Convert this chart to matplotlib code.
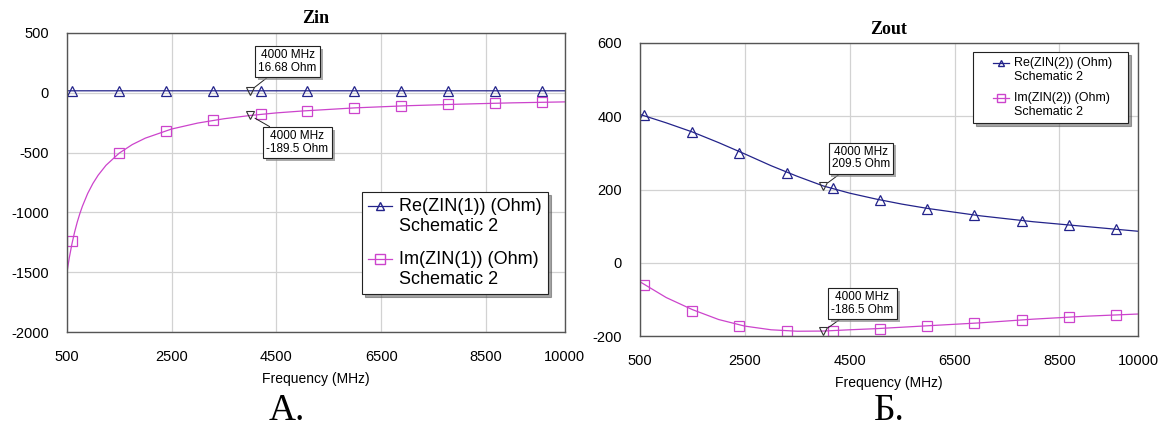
import matplotlib
matplotlib.use("Agg")
import matplotlib.pyplot as plt
import matplotlib.patheffects as pe
from matplotlib.legend_handler import HandlerLine2D

# --- data ---
# Zin (port 1)
zin_freq = [500, 550, 600, 650, 700, 750, 800, 900, 1000, 1100, 1250, 1500, 1750, 2000,
            2500, 3000, 3500, 4000, 4500, 5000, 6000, 7000, 8000, 9000, 10000]
zin_re = [16.7, 16.7, 16.7, 16.7, 16.7, 16.7, 16.7, 16.7, 16.7, 16.7, 16.7, 16.7, 16.7,
          16.7, 16.7, 16.7, 16.7, 16.68, 16.7, 16.7, 16.7, 16.7, 16.7, 16.7, 16.7]
zin_im = [-1516, -1378, -1263, -1166, -1083, -1011, -948, -842, -758, -689, -606, -505,
          -433, -379, -303, -253, -217, -189.5, -168, -152, -126, -108, -95, -84, -76]
zin_mk_freq = [610, 1505, 2400, 3300, 4200, 5090, 5990, 6880, 7780, 8670, 9570]
zin_re_mk = [16.7, 16.7, 16.7, 16.7, 16.7, 16.7, 16.7, 16.7, 16.7, 16.7, 16.7]
zin_im_mk = [-1243, -504, -316, -230, -180, -149, -127, -110, -97, -87, -79]

# Zout (port 2)
zout_freq = [500, 1000, 1500, 2000, 2500, 3000, 3500, 4000, 4500, 5000, 5500, 6000,
             7000, 8000, 9000, 10000]
zout_re = [405, 382, 357, 328, 297, 265, 236, 209.5, 190, 174, 160, 148, 128, 112, 99, 86]
zout_im = [-52, -95, -128, -155, -173, -183, -187, -186.5, -183, -180, -176, -172,
           -164, -154, -146, -140]
zout_mk_freq = [580, 1490, 2390, 3300, 4180, 5080, 5980, 6880, 7780, 8680, 9580]
zout_re_mk = [403, 358, 300, 246, 205, 170, 148, 130, 113, 102, 91]
zout_im_mk = [-61, -131, -172, -186, -186, -180, -172, -164, -155, -148, -143]

# marker readouts at 4000 MHz
mark_f = 4000
zin_mark = [16.68, -189.5]
zout_mark = [209.5, -186.5]

xticks = [500, 2500, 4500, 6500, 8500, 10000]
zin_yticks = [-2000, -1500, -1000, -500, 0, 500]
zout_yticks = [-200, 0, 200, 400, 600]

re_color = "#23238a"
im_color = "#cc44cc"
sans = "Liberation Sans"
serif = "Liberation Serif"

plt.rcParams["font.family"] = sans
plt.rcParams["axes.unicode_minus"] = False


class TopHandler(HandlerLine2D):
    # legend line next to the first line of a two-line label, optionally indented
    def __init__(self, lift, indent=0.0, **kw):
        super().__init__(**kw)
        self.lift = lift
        self.indent = indent

    def create_artists(self, legend, orig_handle, xdescent, ydescent, width, height,
                       fontsize, trans):
        sh = self.indent * fontsize
        return super().create_artists(legend, orig_handle, xdescent - sh,
                                      ydescent - 2 * self.lift * fontsize,
                                      width - sh, height, fontsize, trans)


fig = plt.figure(figsize=(11.69, 4.34), dpi=100)
ax1 = fig.add_axes([66.7 / 1169, 1 - 332 / 434, 498 / 1169, 299 / 434])
ax2 = fig.add_axes([640 / 1169, 1 - 336 / 434, 498 / 1169, 293 / 434])


def setup(ax, yticks, title, tpad):
    ax.set_xlim(500, 10000)
    ax.set_ylim(yticks[0], yticks[-1])
    ax.set_xticks(xticks)
    ax.set_yticks(yticks)
    ax.tick_params(length=0, labelsize=10.5, pad=13)
    ax.grid(True, color="#d2d2d2", linewidth=0.9)
    ax.set_axisbelow(True)
    for s in ax.spines.values():
        s.set_color("#555555")
        s.set_linewidth(1.0)
    ax.set_xlabel("Frequency (MHz)", fontsize=10, labelpad=6)
    ax.set_title(title, fontsize=13, fontweight="bold", family=serif, pad=tpad)


def readout(ax, y, text, dx, dy):
    ax.plot([mark_f], [y], marker="v", ms=6, mfc="none", mec="#333333",
            mew=0.8, ls="none", zorder=5)
    t = ax.annotate(text, xy=(mark_f, y), xytext=(dx, dy), textcoords="offset points",
                    ha="center", va="center", fontsize=8.5, linespacing=1.05,
                    bbox=dict(boxstyle="square,pad=0.28", fc="white", ec="#222222", lw=0.8),
                    arrowprops=dict(arrowstyle="-", color="#222222", lw=0.7,
                                    shrinkA=0, shrinkB=4), zorder=6)
    t.get_bbox_patch().set_path_effects([
        pe.withSimplePatchShadow(offset=(2, -2), shadow_rgbFace="#888888", alpha=0.7)])


# ---- Zin ----
setup(ax1, zin_yticks, "Zin", 7.5)
ax1.plot(zin_freq, zin_re, color=re_color, lw=0.9)
ax1.plot(zin_freq, zin_im, color=im_color, lw=0.9)
ax1.plot(zin_mk_freq, zin_re_mk, ls="none", marker="^", ms=7, mfc="none",
         mec=re_color, mew=0.9)
ax1.plot(zin_mk_freq, zin_im_mk, ls="none", marker="s", ms=7.5, mfc="none",
         mec=im_color, mew=0.9)
h1 = ax1.plot([], [], color=re_color, lw=0.9, marker="^", ms=6, mfc="none", mec=re_color)[0]
h2 = ax1.plot([], [], color=im_color, lw=0.9, marker="s", ms=7, mfc="none", mec=im_color)[0]
leg1 = ax1.legend([h1, h2], ["Re(ZIN(1)) (Ohm)\nSchematic 2", "Im(ZIN(1)) (Ohm)\nSchematic 2"],
                  loc="upper left", bbox_to_anchor=(0.593, 0.468), fontsize=13,
                  fancybox=False, shadow=True, edgecolor="#222222", framealpha=1,
                  handlelength=1.3, handletextpad=0.4, labelspacing=0.9,
                  borderpad=0.35, borderaxespad=0,
                  handler_map={h1: TopHandler(0.6), h2: TopHandler(0.6)})
leg1.get_frame().set_linewidth(0.8)
readout(ax1, zin_mark[0], "4000 MHz\n16.68 Ohm", 27, 21)
readout(ax1, zin_mark[1], "4000 MHz\n-189.5 Ohm", 34, -19.5)

# ---- Zout ----
setup(ax2, zout_yticks, "Zout", 6.5)
ax2.plot(zout_freq, zout_re, color=re_color, lw=0.9)
ax2.plot(zout_freq, zout_im, color=im_color, lw=0.9)
ax2.plot(zout_mk_freq, zout_re_mk, ls="none", marker="^", ms=7, mfc="none",
         mec=re_color, mew=0.9)
ax2.plot(zout_mk_freq, zout_im_mk, ls="none", marker="s", ms=7.5, mfc="none",
         mec=im_color, mew=0.9)
g1 = ax2.plot([], [], color=re_color, lw=0.9, marker="^", ms=5, mfc="none", mec=re_color)[0]
g2 = ax2.plot([], [], color=im_color, lw=0.9, marker="s", ms=6, mfc="none", mec=im_color)[0]
leg2 = ax2.legend([g1, g2], ["Re(ZIN(2)) (Ohm)   \nSchematic 2",
                             "Im(ZIN(2)) (Ohm)   \nSchematic 2"],
                  loc="upper left", bbox_to_anchor=(0.669, 0.969), fontsize=9,
                  fancybox=False, shadow=True, edgecolor="#222222", framealpha=1,
                  handlelength=2.5, handletextpad=0.4, labelspacing=0.75,
                  borderpad=0.4, borderaxespad=0, handleheight=0.7,
                  handler_map={g1: TopHandler(0.6, 1.2), g2: TopHandler(0.6, 1.2)})
leg2.get_frame().set_linewidth(0.8)
readout(ax2, zout_mark[0], "4000 MHz\n209.5 Ohm", 27, 20)
readout(ax2, zout_mark[1], "4000 MHz\n-186.5 Ohm", 28, 20)

fig.text(287 / 1169, 1 - 411 / 434, "А.", family=serif, fontsize=27, ha="center", va="center")
fig.text(889 / 1169, 1 - 411 / 434, "Б.", family=serif, fontsize=27, ha="center", va="center")

fig.savefig("out.png", dpi=100, facecolor="white")
